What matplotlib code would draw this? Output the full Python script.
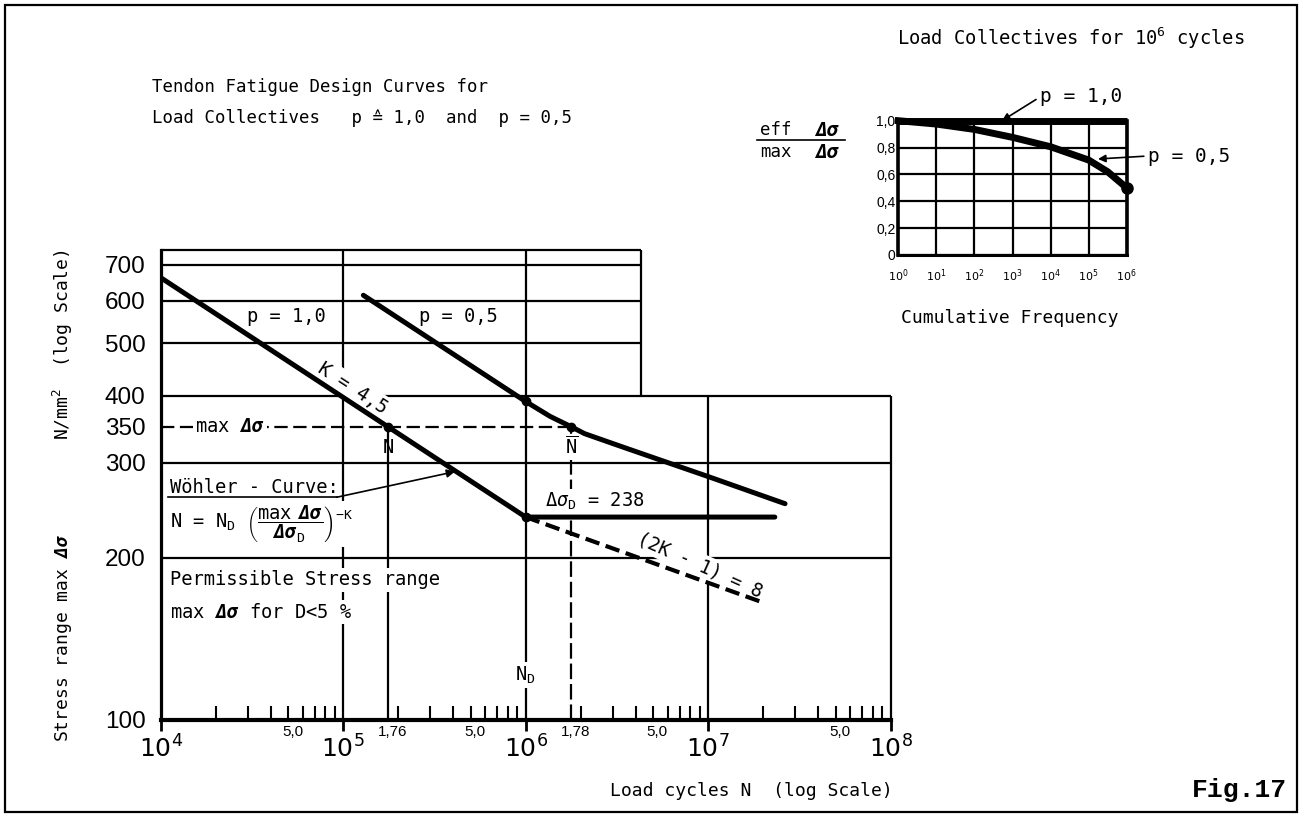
import numpy as np
import matplotlib
matplotlib.use("Agg")
import matplotlib.pyplot as plt
from matplotlib.ticker import LogLocator, NullFormatter, NullLocator
from matplotlib.patches import Rectangle

plt.rcParams['font.family'] = 'DejaVu Sans Mono'
plt.rcParams['mathtext.fontset'] = 'custom'
plt.rcParams['mathtext.rm'] = 'DejaVu Sans Mono'
plt.rcParams['mathtext.it'] = 'DejaVu Sans Mono:italic'
plt.rcParams['mathtext.bf'] = 'DejaVu Sans Mono:bold'
plt.rcParams['mathtext.bfit'] = 'DejaVu Sans Mono:bold:italic'

# --- main S-N diagram ---
p10_N = [1e4, 1.76e5, 1e6, 2.32e7]          # p = 1,0 Woehler curve + cut-off
p10_S = [662, 350, 238, 238]
p05_N = [1.29e5, 1e6, 1.36e6, 1.78e6, 2.1e6, 2.5e6, 3.5e6, 5.9e6, 1e7, 2.64e7]
p05_S = [614, 390, 366, 350, 340, 333, 320, 301, 283, 252]
ext_N = [1e6, 1.92e7]                        # (2K - 1) = 8 extension
ext_S = [238, 166]
max_ds = 350
N_p10 = 1.76e5
N_p05 = 1.78e6
N_D = 1e6
ds_D = 238

y_ticks = [100, 200, 300, 350, 400, 500, 600, 700]
x_decades = [1e4, 1e5, 1e6, 1e7, 1e8]
five_marks = [5e4, 5e5, 5e6, 5e7]

# grid layout of the hand drawn chart
y_top = 745
upper_right = 4.3e6
lower_top = 400

# --- inset: load collectives ---
coll_n = [1, 1e1, 1e2, 1e3, 1e4, 1e5, 3.16e5, 1e6]
coll_p05 = [1.0, 0.975, 0.935, 0.876, 0.806, 0.707, 0.62, 0.5]
coll_p10_n = [1, 1e6]
coll_p10 = [1.0, 1.0]
in_xticks = [1, 1e1, 1e2, 1e3, 1e4, 1e5, 1e6]
in_yticks = [0, 0.2, 0.4, 0.6, 0.8, 1.0]
in_ylabels = ['0', '0,2', '0,4', '0,6', '0,8', '1,0']

W, H = 1301, 816
fig = plt.figure(figsize=(W / 100, H / 100), dpi=100)


def fx(px):
    return px / W


def fy(py):
    return 1 - py / H


fig.add_artist(Rectangle((fx(5), fy(812)), fx(1297) - fx(5), fy(5) - fy(812),
                         fill=False, lw=1.6, ec='k', transform=fig.transFigure))

ax = fig.add_axes([fx(160.7), fy(720), fx(890.6) - fx(160.7), fy(250) - fy(720)])
ax.set_xscale('log')
ax.set_yscale('log')
ax.set_xlim(1e4, 1e8)
ax.set_ylim(100, y_top)

gl = dict(color='k', lw=1.6, zorder=1, clip_on=False)
ax.hlines([200, 300, lower_top], 1e4, 1e8, **gl)
ax.hlines([500, 600, 700, y_top], 1e4, upper_right, **gl)
ax.vlines(upper_right, lower_top, y_top, **gl)
ax.vlines(1e8, 100, lower_top, **gl)
ax.vlines([1e5, 1e6], 100, y_top, **gl)
ax.vlines(1e7, 100, lower_top, **gl)
ax.vlines(N_p10, 100, max_ds, **gl)
ax.vlines(N_p05, 100, max_ds, color='k', lw=1.6, zorder=1, linestyles=(0, (7, 2.2)))
ax.hlines(max_ds, 1e4, N_p05, color='k', lw=1.6, zorder=1, linestyles=(0, (6, 2.5)))

for s in ['top', 'right']:
    ax.spines[s].set_visible(False)
ax.spines['left'].set_linewidth(2.3)
ax.spines['bottom'].set_linewidth(3)

ax.plot(p10_N, p10_S, color='k', lw=3.6, zorder=4, solid_capstyle='round')
ax.plot(p05_N, p05_S, color='k', lw=3.6, zorder=4, solid_capstyle='round',
        solid_joinstyle='round')
ax.plot(ext_N, ext_S, color='k', lw=3.0, ls=(0, (3.5, 1.6)), zorder=4)
ax.plot([N_p10, N_p05, N_D, N_D], [max_ds, max_ds, ds_D, p05_S[1]], 'ko', ms=6, zorder=5)

ax.set_yticks(y_ticks)
ax.set_yticklabels([str(v) for v in y_ticks])
ax.yaxis.set_minor_locator(NullLocator())
ax.tick_params(axis='y', which='both', length=0, pad=11, labelsize=17.5)
for t in ax.get_yticklabels():
    t.set_fontfamily('Liberation Sans')

ax.set_xticks(x_decades)
ax.set_xticklabels([r'$10^{%d}$' % round(np.log10(v)) for v in x_decades])
ax.xaxis.set_minor_locator(LogLocator(base=10, subs=np.arange(2, 10)))
ax.xaxis.set_minor_formatter(NullFormatter())
ax.tick_params(axis='x', which='major', direction='out', length=8, width=2, pad=3, labelsize=18)
ax.tick_params(axis='x', which='minor', direction='in', length=10, width=1.5)
for t in ax.get_xticklabels():
    t.set_math_fontfamily('dejavusans')

small = dict(xycoords=('data', 'axes fraction'), textcoords='offset points',
             ha='center', va='center', fontsize=11, family='Liberation Sans')
for v in five_marks:
    ax.annotate('5,0', xy=(v, 0), xytext=(3, -9), **small)
ax.annotate('1,76', xy=(N_p10, 0), xytext=(3, -9), **small)
ax.annotate('1,78', xy=(N_p05, 0), xytext=(3, -9), **small)

white = dict(boxstyle='square,pad=0.12', fc='white', ec='none')
tk = dict(fontsize=13.5, va='center')

ax.text(4.9e4, 560, 'p = 1,0', ha='center', **tk)
ax.text(4.26e5, 560, 'p = 0,5', ha='center', **tk)
ax.text(1.13e5, 413, 'K = 4,5', ha='center', rotation=-33, rotation_mode='anchor',
        bbox=white, zorder=3, **tk)
ax.text(2.4e4, max_ds, r'max $\mathbfit{\Delta\sigma}$', ha='center', bbox=white, zorder=3, **tk)
ax.text(N_p10, 321, 'N', ha='center', **tk)
ax.text(N_p05, 321, r'$\overline{\mathrm{N}}$', ha='center', bbox=white, zorder=3, **tk)

ax.text(1.12e4, 270, 'Wöhler - Curve:', ha='left', bbox=white, zorder=3, **tk)
ax.plot([1.1e4, 9.2e4], [259, 259], color='k', lw=1.2, zorder=3)
ax.annotate('', xy=(4.1e5, 289), xytext=(9.2e4, 259),
            arrowprops=dict(arrowstyle='-|>', color='k', lw=1.2, mutation_scale=12,
                            shrinkA=0, shrinkB=0), zorder=3)
ax.text(1.12e4, 231,
        r'N = N$_\mathrm{D}$ $\left(\dfrac{\mathrm{max}\ \ \mathbfit{\Delta\sigma}}'
        r'{\mathbfit{\Delta\sigma}_\mathrm{D}}\right)^{-\mathrm{K}}$',
        ha='left', bbox=white, zorder=3, **tk)
ax.text(1.12e4, 182, 'Permissible Stress range', ha='left', bbox=white, zorder=3, **tk)
ax.text(1.12e4, 158.6, r'max $\mathbfit{\Delta\sigma}$ for D<5 %', ha='left', bbox=white,
        zorder=3, **tk)
ax.text(1.28e6, 254, r'$\Delta\sigma_\mathrm{D}$ = 238', ha='left', bbox=white, zorder=3, **tk)
ax.text(9.0e6, 194, '(2K - 1) = 8', ha='center', rotation=-24, rotation_mode='anchor',
        bbox=white, zorder=3, **tk)
ax.text(N_D, 121, r'N$_\mathrm{D}$', ha='center', bbox=white, zorder=3, **tk)

# axis titles
fig.text(fx(63), fy(345), r'N/mm$^2$  (log Scale)', rotation=90, ha='center', va='center',
         fontsize=13)
fig.text(fx(63), fy(638), r'Stress range max $\mathbfit{\Delta\sigma}$', rotation=90,
         ha='center', va='center', fontsize=13)
fig.text(fx(893), fy(791), 'Load cycles N  (log Scale)', ha='right', va='center', fontsize=13)

fig.text(fx(152), fy(87), 'Tendon Fatigue Design Curves for', ha='left', va='center',
         fontsize=12.5)
fig.text(fx(152), fy(118), 'Load Collectives   p \u2259 1,0  and  p = 0,5', ha='left',
         va='center', fontsize=12.5)

fig.text(fx(1240), fy(790), 'Fig.17', ha='center', va='center', fontsize=19,
         family='Liberation Mono', weight='bold')

# --- inset ---
ax2 = fig.add_axes([fx(898.3), fy(255), fx(1126.7) - fx(898.3), fy(120.7) - fy(255)])
ax2.set_xscale('log')
ax2.set_xlim(1, 1e6)
ax2.set_ylim(0, 1)
ax2.set_xticks(in_xticks)
ax2.set_xticklabels([r'$10^{%d}$' % round(np.log10(v)) for v in in_xticks])
ax2.xaxis.set_minor_locator(NullLocator())
ax2.set_yticks(in_yticks)
ax2.set_yticklabels(in_ylabels)
ax2.tick_params(length=0)
ax2.tick_params(axis='x', pad=9, labelsize=8)
ax2.tick_params(axis='y', pad=2, labelsize=10)
for t in ax2.get_xticklabels():
    t.set_math_fontfamily('dejavusans')
for t in ax2.get_yticklabels():
    t.set_fontfamily('Liberation Sans')
ax2.grid(True, which='major', color='k', lw=1.6)
ax2.spines['top'].set_visible(False)
ax2.spines['left'].set_linewidth(2.6)
ax2.spines['right'].set_linewidth(2.6)
ax2.spines['bottom'].set_linewidth(2.2)
ax2.plot(coll_p10_n, coll_p10, color='k', lw=5, clip_on=False, solid_capstyle='butt')
ax2.plot(coll_n, coll_p05, color='k', lw=5, clip_on=False, solid_joinstyle='round')
ax2.plot(coll_n[-1], coll_p05[-1], 'ko', ms=8, clip_on=False)

arr = dict(arrowstyle='-|>', color='k', lw=1.2, mutation_scale=11, shrinkA=1, shrinkB=0,
           relpos=(0, 0.5))
ax2.annotate('p = 1,0', xy=(5.3e2, 1.0), xytext=(fx(1040), fy(97)),
             textcoords='figure fraction', ha='left', va='center', fontsize=14,
             arrowprops=arr)
ax2.annotate('p = 0,5', xy=(1.76e5, 0.715), xytext=(fx(1148), fy(156)),
             textcoords='figure fraction', ha='left', va='center', fontsize=14,
             arrowprops=arr)

fig.text(fx(897), fy(38), r'Load Collectives for 10$^{6}$ cycles', ha='left', va='center',
         fontsize=13.5)
fig.text(fx(1010), fy(318), 'Cumulative Frequency', ha='center', va='center', fontsize=13)

fig.text(fx(776), fy(130), 'eff', ha='center', va='center', fontsize=12.5)
fig.text(fx(776), fy(152), 'max', ha='center', va='center', fontsize=12.5)
fig.text(fx(827), fy(130), r'$\mathbfit{\Delta\sigma}$', ha='center', va='center', fontsize=14)
fig.text(fx(827), fy(152), r'$\mathbfit{\Delta\sigma}$', ha='center', va='center', fontsize=14)
fig.add_artist(plt.Line2D([fx(757), fx(845)], [fy(140), fy(140)], color='k', lw=1.2,
                          transform=fig.transFigure))

fig.savefig('out.png', dpi=100)
